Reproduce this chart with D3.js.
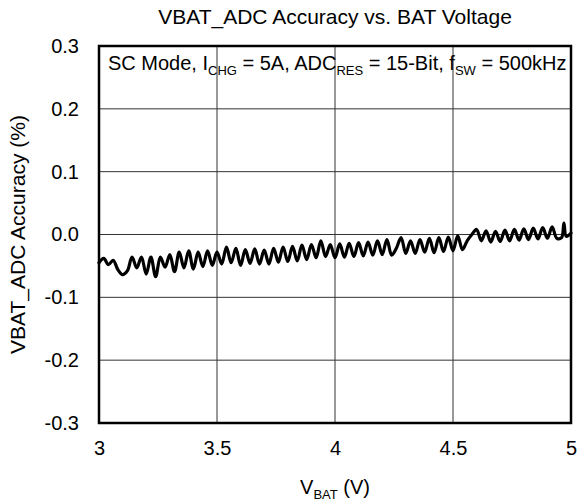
<!DOCTYPE html>
<html><head><meta charset="utf-8">
<script src="https://cdn.jsdelivr.net/npm/d3@7/dist/d3.min.js"></script>
<style>body{margin:0;background:#fff}svg{display:block}text{font-family:"Liberation Sans",Arial,sans-serif;fill:#000}</style>
</head><body><svg id="c" width="579" height="502"></svg>
<script>
const xTicks = [3, 3.5, 4, 4.5, 5];
const xTickLabels = ["3", "3.5", "4", "4.5", "5"];
const yTicks = [-0.3, -0.2, -0.1, 0.0, 0.1, 0.2, 0.3];
const yTickLabels = ["-0.3", "-0.2", "-0.1", "0.0", "0.1", "0.2", "0.3"];
const vbat = [3.00,3.02,3.04,3.06,3.08,3.10,3.12,3.14,3.16,3.18,3.20,3.22,3.24,3.26,3.28,3.30,
  3.32,3.34,3.36,3.38,3.40,3.42,3.44,3.46,3.48,3.50,3.52,3.54,3.56,3.58,3.60,3.62,3.64,3.66,3.68,3.70,
  3.72,3.74,3.76,3.78,3.80,3.82,3.84,3.86,3.88,3.90,3.92,3.94,3.96,3.98,4.00,
  4.02,4.04,4.06,4.08,4.10,4.12,4.14,4.16,4.18,4.20,4.22,4.24,4.26,4.28,4.30,4.32,4.34,4.36,4.38,4.40,
  4.42,4.44,4.46,4.48,4.50,4.52,4.54,4.56,4.58,4.60,4.62,4.64,4.66,4.68,4.70,4.72,4.74,4.76,4.78,4.80,
  4.82,4.84,4.86,4.88,4.90,4.92,4.94,4.96,4.97,4.98,5.00];
const accuracy = [-0.045,-0.038,-0.048,-0.041,-0.056,-0.064,-0.058,-0.036,-0.053,-0.036,-0.063,-0.036,-0.067,-0.036,-0.052,-0.032,
  -0.059,-0.028,-0.053,-0.026,-0.055,-0.028,-0.051,-0.026,-0.049,-0.028,-0.047,-0.020,-0.045,-0.022,-0.049,-0.024,-0.046,-0.023,-0.047,-0.025,
  -0.047,-0.022,-0.044,-0.020,-0.043,-0.019,-0.042,-0.017,-0.040,-0.016,-0.037,-0.010,-0.035,-0.016,-0.037,
  -0.015,-0.036,-0.014,-0.035,-0.013,-0.034,-0.012,-0.033,-0.010,-0.032,-0.008,-0.033,-0.022,-0.005,-0.030,-0.010,-0.030,-0.008,-0.028,-0.006,
  -0.029,-0.005,-0.027,-0.004,-0.026,-0.002,-0.024,-0.010,0.000,0.008,-0.010,0.006,-0.012,0.005,-0.011,0.007,-0.010,0.008,-0.009,0.009,
  -0.008,0.010,-0.007,0.011,-0.006,0.012,-0.006,-0.005,0.018,-0.003,0.002];

const svg = d3.select("#c");
const L = 99, R = 571, T = 46, B = 423;
const FS = 20, SUB = 13;
const x = d3.scaleLinear().domain([3, 5]).range([L, R]);
const y = d3.scaleLinear().domain([-0.3, 0.3]).range([B, T]);

// grid
svg.append("g").selectAll("line").data(xTicks.slice(1, -1)).join("line")
  .attr("x1", d => x(d)).attr("x2", d => x(d)).attr("y1", T).attr("y2", B)
  .attr("stroke", "#333").attr("stroke-width", 1);
svg.append("g").selectAll("line").data(yTicks.slice(1, -1)).join("line")
  .attr("y1", d => y(d)).attr("y2", d => y(d)).attr("x1", L).attr("x2", R)
  .attr("stroke", "#333").attr("stroke-width", 1);

// axes labels via d3 axes (no lines)
const xa = svg.append("g").attr("transform", `translate(0,${B})`)
  .call(d3.axisBottom(x).tickValues(xTicks).tickFormat((d, i) => xTickLabels[i]).tickSize(0).tickPadding(18));
xa.select(".domain").remove();
xa.selectAll("text").attr("font-size", FS).attr("font-family", "Liberation Sans, Arial, sans-serif");
const ya = svg.append("g").attr("transform", `translate(${L},0)`)
  .call(d3.axisLeft(y).tickValues(yTicks).tickFormat((d, i) => yTickLabels[i]).tickSize(0).tickPadding(20));
ya.select(".domain").remove();
ya.selectAll("text").attr("font-size", FS).attr("font-family", "Liberation Sans, Arial, sans-serif");

// data line
const line = d3.line().x((d, i) => x(vbat[i])).y(d => y(d)).curve(d3.curveCatmullRom.alpha(0.5));
svg.append("path").datum(accuracy).attr("d", line)
  .attr("fill", "none").attr("stroke", "#000").attr("stroke-width", 3.2)
  .attr("stroke-linejoin", "round").attr("stroke-linecap", "round");

// frame
svg.append("rect").attr("x", L).attr("y", T).attr("width", R - L).attr("height", B - T)
  .attr("fill", "none").attr("stroke", "#000").attr("stroke-width", 2.5);

// title
svg.append("text").attr("x", 335).attr("y", 24).attr("text-anchor", "middle").attr("font-size", 21)
  .text("VBAT_ADC Accuracy vs. BAT Voltage");

// annotation
const ann = svg.append("text").attr("x", 108).attr("y", 70).attr("font-size", FS);
ann.append("tspan").text("SC Mode, I");
ann.append("tspan").attr("font-size", SUB).attr("dy", 5).text("CHG");
ann.append("tspan").attr("dy", -5).text(" = 5A, ADC");
ann.append("tspan").attr("font-size", SUB).attr("dy", 5).text("RES");
ann.append("tspan").attr("dy", -5).text(" = 15-Bit, f");
ann.append("tspan").attr("font-size", SUB).attr("dy", 5).text("SW");
ann.append("tspan").attr("dy", -5).text(" = 500kHz");

// x label
const xl = svg.append("text").attr("x", 335).attr("y", 494).attr("text-anchor", "middle").attr("font-size", FS);
xl.append("tspan").text("V");
xl.append("tspan").attr("font-size", SUB).attr("dy", 5).text("BAT");
xl.append("tspan").attr("dy", -5).text(" (V)");

// y label
svg.append("text").attr("transform", `translate(25,${(T + B) / 2}) rotate(-90)`)
  .attr("text-anchor", "middle").attr("font-size", 21).text("VBAT_ADC Accuracy (%)");
</script></body></html>
